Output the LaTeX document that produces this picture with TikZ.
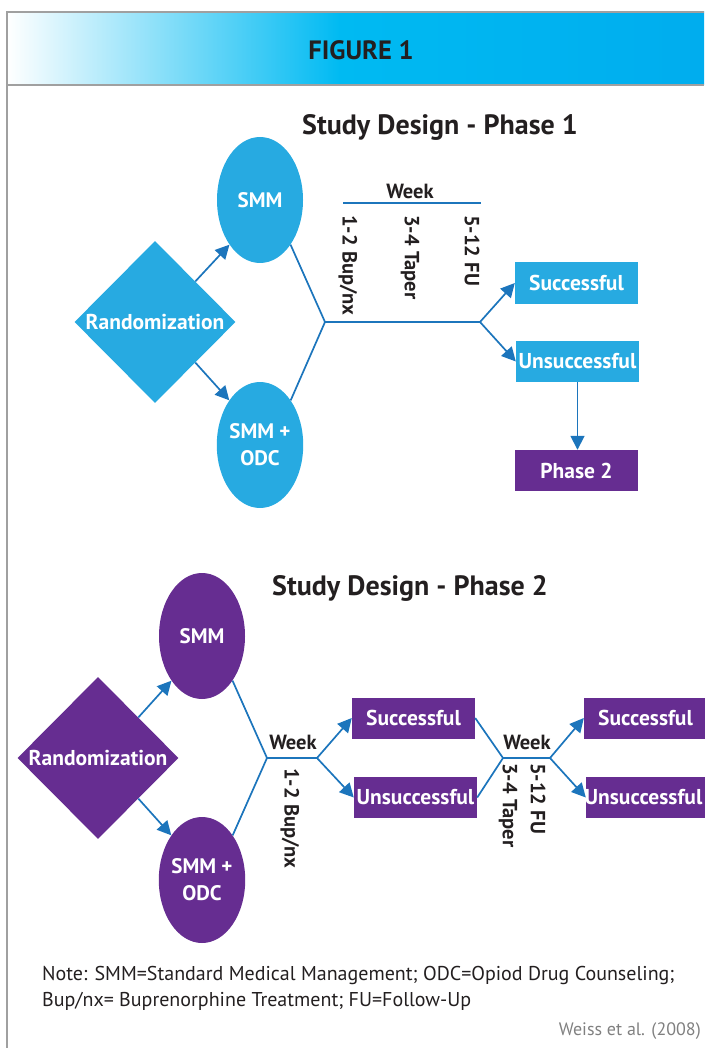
\documentclass[tikz,border=0pt]{standalone}
\usepackage{fontspec}
\setmainfont{PT Sans}
\usetikzlibrary{shapes.geometric,arrows.meta}
\definecolor{pblue}{HTML}{27AAE1}
\definecolor{lblue}{HTML}{1C75BC}
\definecolor{purp}{HTML}{662D91}
\definecolor{txt}{HTML}{231F20}
\definecolor{cyanA}{HTML}{00BAF2}
\definecolor{cyanB}{HTML}{00ADEE}
\definecolor{frame}{HTML}{A0A0A0}
\definecolor{src}{HTML}{808080}
\begin{document}
\begin{tikzpicture}[x=1pt,y=-1pt,
  ell/.style={ellipse, minimum width=86pt, minimum height=126pt, inner sep=0pt, text=white, font=\bfseries\fontsize{21}{27}\selectfont, align=center},
  dia/.style={diamond, minimum width=161pt, minimum height=162pt, inner sep=0pt},
  wtext/.style={text=white, font=\bfseries\fontsize{21.5}{24}\selectfont, inner sep=0pt},
  box/.style={minimum width=123pt, minimum height=41pt, inner sep=0pt, text=white, font=\bfseries\fontsize{21.5}{24}\selectfont},
  conn/.style={draw=lblue, line width=1.7pt},
  arr/.style={conn, -{Triangle[length=14pt,width=14pt]}},
  lab/.style={text=txt, font=\bfseries\fontsize{20.5}{24}\selectfont, inner sep=0pt},
  vlab/.style={lab, rotate=-90, anchor=west},
  ttl/.style={text=txt, font=\bfseries\fontsize{28}{32}\selectfont, inner sep=0pt},
  note/.style={text=txt, font=\fontsize{20}{24}\selectfont, inner sep=0pt, anchor=west}
]
\useasboundingbox (0,0) rectangle (704,1048);
% header
\shade[left color=white, right color=cyanA] (7,12) rectangle (340,85);
\shade[left color=cyanA, right color=cyanB] (339.5,12) rectangle (704,85);
\draw[frame, line width=1.5pt] (704,12) -- (7,12) -- (7,85) -- (704,85);
\draw[frame, line width=1.5pt] (7,85) -- (7,1048);
\node[text=txt, font=\bfseries\fontsize{26.5}{30}\selectfont, inner sep=0pt] (fig) at (361,50) {FIGURE 1};

% ---------------- Phase 1
\node[ttl] (t1) at (440,127) {Study Design - Phase 1};
\node[dia, fill=pblue] (rand1) at (155,322) {};
\node[wtext] (rand1t) at (rand1) {Randomization};
\node[ell, fill=pblue] (smm1) at (260,200) {SMM};
\node[ell, fill=pblue] (odc1) at (260,445) {SMM +\\ODC};
\coordinate (j1) at (325,322);
\coordinate (j2) at (480,322);
\node[box, fill=pblue] (suc1) at (576.5,283) {Successful};
\node[box, fill=pblue] (uns1) at (577.5,361.5) {Unsuccessful};
\node[box, fill=purp] (ph2) at (576.5,470.5) {Phase 2};
\draw[arr] (rand1.north east) -- (smm1.south west);
\draw[arr] (rand1.south east) -- (odc1.north west);
\draw[conn] (smm1.south east) -- (j1) -- (j2);
\draw[conn] (odc1.north east) -- (j1);
\draw[arr] (j2) -- (suc1.west);
\draw[arr] (j2) -- (uns1.west);
\draw[arr] (uns1.south) -- (uns1.south |- ph2.north);
\node[lab] (wk1) at (410,191) {Week};
\coordinate (wl1) at (343,203);
\coordinate (wl2) at (481,203);
\draw[conn] (wl1) -- (wl2);
\node[vlab] (v11) at (348,215) {1-2 Bup/nx};
\node[vlab] (v12) at (410,215) {3-4 Taper};
\node[vlab] (v13) at (472,215) {5-12 FU};

% ---------------- Phase 2
\node[ttl] (t2) at (410,588) {Study Design - Phase 2};
\node[dia, fill=purp] (rand2) at (98,758) {};
\node[wtext] (rand2t) at (rand2) {Randomization};
\node[ell, fill=purp] (smm2) at (202,636) {SMM};
\node[ell, fill=purp] (odc2) at (202,880) {SMM +\\ODC};
\coordinate (j3) at (267,758);
\coordinate (j4) at (317,758);
\coordinate (j5) at (503,758);
\coordinate (j6) at (550,758);
\node[box, fill=purp] (suc2) at (413.5,718) {Successful};
\node[box, fill=purp] (uns2) at (415.5,797.5) {Unsuccessful};
\node[box, fill=purp] (suc3) at (645.5,718) {Successful};
\node[box, fill=purp] (uns3) at (647.5,797.5) {};
\node[wtext] (uns3t) at (643.5,797.5) {Unsuccessful};
\draw[arr] (rand2.north east) -- (smm2.south west);
\draw[arr] (rand2.south east) -- (odc2.north west);
\draw[conn] (smm2.south east) -- (j3) -- (j4);
\draw[conn] (odc2.north east) -- (j3);
\draw[arr] (j4) -- (suc2.west);
\draw[arr] (j4) -- (uns2.west);
\draw[conn] (suc2.east) -- (j5) -- (j6);
\draw[conn] (uns2.east) -- (j5);
\draw[arr] (j6) -- (suc3.west);
\draw[arr] (j6) -- (uns3.west);
\node[lab] (wk2) at (293,742) {Week};
\node[lab] (wk3) at (527,742) {Week};
\node[vlab] (v21) at (290,768) {1-2 Bup/nx};
\node[vlab] (v22) at (508,763) {3-4 Taper};
\node[vlab] (v23) at (538,763) {5-12 FU};

% ---------------- Note
\node[note] (n1) at (42,975) {Note: SMM=Standard Medical Management; ODC=Opiod Drug Counseling;};
\node[note] (n2) at (42,1001) {Bup/nx= Buprenorphine Treatment; FU=Follow-Up};
\node[text=src, font=\fontsize{18}{21}\selectfont, inner sep=0pt, anchor=east] (srcn) at (701,1031) {Weiss et al. (2008)};
\end{tikzpicture}
\end{document}
